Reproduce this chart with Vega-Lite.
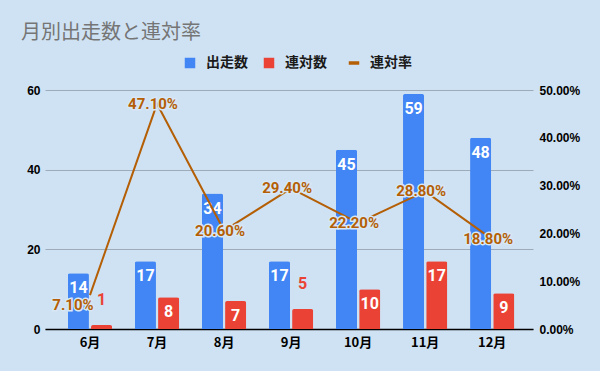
{
  "$schema": "https://vega.github.io/schema/vega-lite/v6.json",
  "autosize": "none",
  "width": 488,
  "height": 239,
  "padding": {"left": 45, "top": 90, "right": 67, "bottom": 42},
  "background": "#cfe2f3",
  "config": {"view": {"stroke": null}},
  "title": {
    "text": "月別出走数と連対率",
    "anchor": "start",
    "frame": "group",
    "font": "Noto Sans CJK JP",
    "fontSize": 20,
    "fontWeight": "normal",
    "color": "#757575",
    "dx": -24,
    "offset": 13
  },
  "datasets": {
    "bars": [
      {"month": "6月", "series": "出走数", "value": 14},
      {"month": "6月", "series": "連対数", "value": 1},
      {"month": "7月", "series": "出走数", "value": 17},
      {"month": "7月", "series": "連対数", "value": 8},
      {"month": "8月", "series": "出走数", "value": 34},
      {"month": "8月", "series": "連対数", "value": 7},
      {"month": "9月", "series": "出走数", "value": 17},
      {"month": "9月", "series": "連対数", "value": 5},
      {"month": "10月", "series": "出走数", "value": 45},
      {"month": "10月", "series": "連対数", "value": 10},
      {"month": "11月", "series": "出走数", "value": 59},
      {"month": "11月", "series": "連対数", "value": 17},
      {"month": "12月", "series": "出走数", "value": 48},
      {"month": "12月", "series": "連対数", "value": 9}
    ],
    "rates": [
      {"month": "6月", "rate": 0.071},
      {"month": "7月", "rate": 0.471},
      {"month": "8月", "rate": 0.206},
      {"month": "9月", "rate": 0.294},
      {"month": "10月", "rate": 0.222},
      {"month": "11月", "rate": 0.288},
      {"month": "12月", "rate": 0.188}
    ]
  },
  "encoding": {
    "x": {
      "field": "month",
      "type": "nominal",
      "sort": ["6月", "7月", "8月", "9月", "10月", "11月", "12月"],
      "scale": {"paddingInner": 0.34, "paddingOuter": 0.31, "align": 0.55},
      "title": null,
      "axis": {
        "domain": true,
        "domainColor": "#000000",
        "domainWidth": 1.5,
        "ticks": false,
        "labelAngle": 0,
        "labelFont": "Noto Sans CJK JP",
        "labelFontWeight": "bold",
        "labelFontSize": 13,
        "labelColor": "#000000",
        "labelPadding": 7
      }
    }
  },
  "layer": [
    {
      "data": {"name": "bars"},
      "encoding": {
        "y": {"field": "value", "type": "quantitative", "scale": {"domain": [0, 60]}},
        "xOffset": {"field": "series", "type": "nominal", "scale": {"domain": ["出走数", "連対数"], "paddingInner": 0.09, "paddingOuter": 0}}
      },
      "layer": [
        {
          "mark": {"type": "bar", "cornerRadiusTopLeft": 2, "cornerRadiusTopRight": 2},
          "encoding": {
            "y": {
              "field": "value",
              "type": "quantitative",
              "title": null,
              "axis": {
                "orient": "left",
                "values": [0, 20, 40, 60],
                "domain": false,
                "ticks": false,
                "grid": true,
                "gridColor": "#9eabb8",
                "gridWidth": 1,
                "labelFont": "Liberation Sans",
                "labelFontWeight": "bold",
                "labelFontSize": 12,
                "labelColor": "#000000",
                "labelPadding": 5
              }
            },
            "color": {
              "field": "series",
              "type": "nominal",
              "scale": {"domain": ["出走数", "連対数", "連対率"], "range": ["#4285f4", "#ea4335", "#b45f06"]},
              "legend": {
                "orient": "none",
                "direction": "horizontal",
                "legendX": 138,
                "legendY": -34,
                "title": null,
                "padding": 0,
                "symbolSize": 110,
                "symbolType": "square",
                "symbolStrokeWidth": 0,
                "labelFont": "Noto Sans CJK JP",
                "labelFontWeight": "bold",
                "labelFontSize": 14,
                "labelColor": "#1a1a1a",
                "labelOffset": 9,
                "columnPadding": 14,
                "encode": {
                  "symbols": {
                    "update": {
                      "shape": {"signal": "datum.value === '連対率' ? 'stroke' : 'square'"},
                      "stroke": {"signal": "datum.value === '連対率' ? '#b45f06' : null"},
                      "strokeWidth": {"signal": "datum.value === '連対率' ? 3.5 : 0"}
                    }
                  }
                }
              }
            }
          }
        },
        {
          "transform": [{"filter": "datum.value >= 6"}],
          "mark": {"type": "text", "baseline": "middle", "dy": 15, "font": "Roboto", "fontWeight": "bold", "fontSize": 16, "color": "#ffffff"},
          "encoding": {
            "y": {"field": "value", "type": "quantitative"},
            "text": {"field": "value", "type": "quantitative"}
          }
        },
        {
          "transform": [{"filter": "datum.value < 6"}],
          "mark": {"type": "text", "baseline": "middle", "dy": -25, "font": "Roboto", "fontWeight": "bold", "fontSize": 16, "color": "#ea4335"},
          "encoding": {
            "y": {"field": "value", "type": "quantitative"},
            "text": {"field": "value", "type": "quantitative"}
          }
        }
      ]
    },
    {
      "data": {"name": "rates"},
      "encoding": {
        "y": {"field": "rate", "type": "quantitative", "scale": {"domain": [0, 0.5]}}
      },
      "layer": [
        {
          "mark": {"type": "line", "color": "#b45f06", "strokeWidth": 2},
          "encoding": {
            "y": {
              "field": "rate",
              "type": "quantitative",
              "title": null,
              "axis": {
                "orient": "right",
                "values": [0, 0.1, 0.2, 0.3, 0.4, 0.5],
                "format": ".2%",
                "domain": false,
                "ticks": false,
                "grid": false,
                "labelFont": "Liberation Sans",
                "labelFontWeight": "bold",
                "labelFontSize": 12,
                "labelColor": "#000000",
                "labelPadding": 6
              }
            }
          }
        },
        {
          "transform": [{"filter": "datum.month !== '6月'"}],
          "mark": {"type": "text", "baseline": "middle", "dx": -4, "font": "Roboto", "fontWeight": "bold", "fontSize": 15, "color": "#d8e7f5", "stroke": "#d8e7f5", "strokeWidth": 3},
          "encoding": {
            "y": {"field": "rate", "type": "quantitative"},
            "text": {"field": "rate", "type": "quantitative", "format": ".2%"}
          }
        },
        {
          "transform": [{"filter": "datum.month !== '6月'"}],
          "mark": {"type": "text", "baseline": "middle", "dx": -4, "font": "Roboto", "fontWeight": "bold", "fontSize": 15, "color": "#b45f06"},
          "encoding": {
            "y": {"field": "rate", "type": "quantitative"},
            "text": {"field": "rate", "type": "quantitative", "format": ".2%"}
          }
        },
        {
          "transform": [{"filter": "datum.month === '6月'"}],
          "mark": {"type": "text", "baseline": "middle", "dx": -17, "dy": 10, "font": "Roboto", "fontWeight": "bold", "fontSize": 15, "color": "#d8e7f5", "stroke": "#d8e7f5", "strokeWidth": 3},
          "encoding": {
            "y": {"field": "rate", "type": "quantitative"},
            "text": {"field": "rate", "type": "quantitative", "format": ".2%"}
          }
        },
        {
          "transform": [{"filter": "datum.month === '6月'"}],
          "mark": {"type": "text", "baseline": "middle", "dx": -17, "dy": 10, "font": "Roboto", "fontWeight": "bold", "fontSize": 15, "color": "#b45f06"},
          "encoding": {
            "y": {"field": "rate", "type": "quantitative"},
            "text": {"field": "rate", "type": "quantitative", "format": ".2%"}
          }
        }
      ]
    }
  ],
  "resolve": {"scale": {"y": "independent"}}
}
